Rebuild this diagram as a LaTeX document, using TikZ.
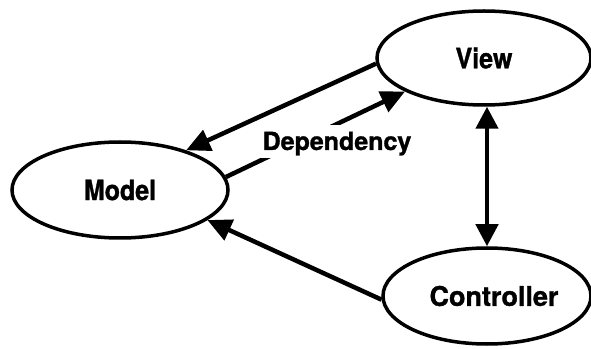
\documentclass[tikz,border=0pt]{standalone}
\usepackage{fontspec}
\usepackage{graphicx}
\setmainfont{TeX Gyre Heros}[BoldFeatures={FakeBold=1.2}]
\usetikzlibrary{shapes.geometric,arrows.meta}

\tikzset{
  part/.style={ellipse, draw, line width=3.5pt, inner sep=0pt,
               font=\bfseries\fontsize{25}{30}\selectfont},
  link/.style={line width=4.5pt, -{Triangle[length=24pt,width=22pt]}},
  twoway/.style={line width=4.5pt,
                 {Triangle[length=22pt,width=22pt]}-{Triangle[length=22pt,width=22pt]}},
  tag/.style={font=\bfseries\fontsize{25}{30}\selectfont, fill=white,
              inner sep=3pt, text height=22pt, text depth=5pt, anchor=base}
}

\begin{document}
\begin{tikzpicture}[x=1pt,y=1pt]
  \useasboundingbox (0,0) rectangle (591,348);

  % the three parts
  \node[part, minimum width=216pt, minimum height=96pt] (model) at (120,158)
       {\scalebox{1}[1.12]{Model}};
  \node[part, minimum width=214pt, minimum height=94pt] (view) at (484,290)
       {\scalebox{1}[1.12]{View}};
  \node[part, minimum width=208pt, minimum height=96pt,
        font=\bfseries\fontsize{27}{32}\selectfont] (controller) at (487,52)
       {\hspace*{14pt}Controller};

  % connectors
  \draw[link] (view.183) -- (model.31);
  \draw[link] (model.7) -- (view.203);
  \draw[link] (controller.182) -- (model.-19);
  \draw[twoway] (view.south -| controller.north) -- (controller.north);

  % label on the dependency arrow
  \node[tag] (dep) at (337,198) {Dependency};
\end{tikzpicture}
\end{document}
